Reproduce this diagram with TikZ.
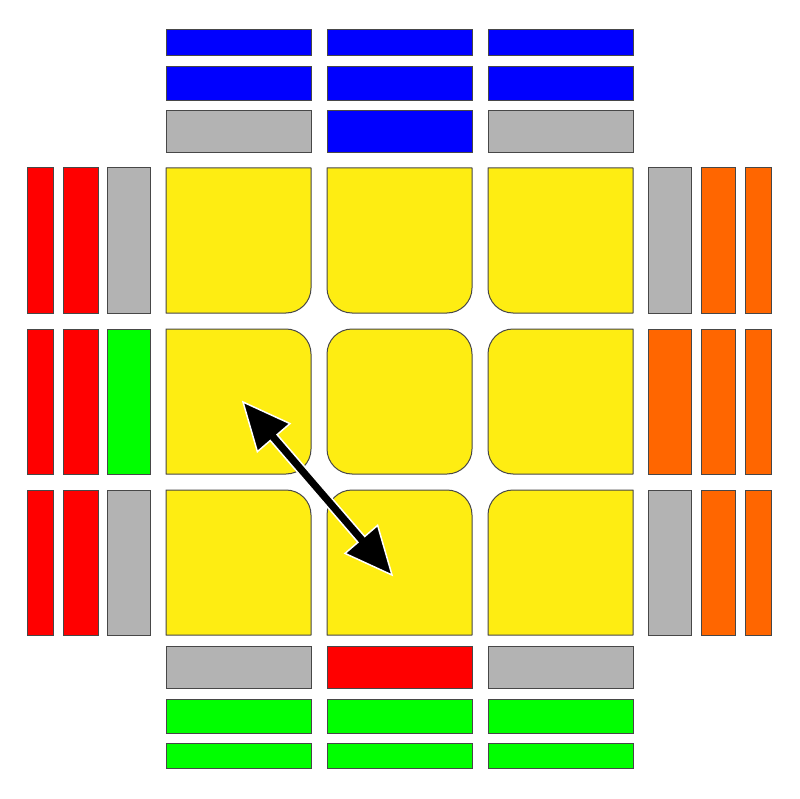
\documentclass[tikz,border=0pt]{standalone}
\usetikzlibrary{calc}
\definecolor{cubeyellow}{HTML}{FEED12}
\definecolor{cubegray}{HTML}{B3B3B3}
\definecolor{cubeorange}{HTML}{FF6600}
\definecolor{cubegreen}{HTML}{00FF00}
\definecolor{cubeblue}{HTML}{0000FF}
\definecolor{cubered}{HTML}{FF0000}
\tikzset{facelet/.style={draw=black!72,line width=1pt}}
\begin{document}
\begin{tikzpicture}[x=1pt,y=1pt]
\useasboundingbox (0,0) rectangle (799,-799);
% yellow face, inner corners rounded
\foreach \c/\x in {0/166,1/327,2/488}
\foreach \r/\y in {0/168,1/329,2/490}{
  \pgfmathsetmacro\ra{(\c>0)*(\r>0)*25+0.01}
  \pgfmathsetmacro\rb{(\c<2)*(\r>0)*25+0.01}
  \pgfmathsetmacro\rc{(\c<2)*(\r<2)*25+0.01}
  \pgfmathsetmacro\rd{(\c>0)*(\r<2)*25+0.01}
  \draw[facelet,fill=cubeyellow] (\x+\ra,-\y) -- (\x+145-\rb,-\y)
    arc[start angle=90,end angle=0,radius=\rb] -- (\x+145,-\y-145+\rc)
    arc[start angle=0,end angle=-90,radius=\rc] -- (\x+\rd,-\y-145)
    arc[start angle=-90,end angle=-180,radius=\rd] -- (\x,-\y-\ra)
    arc[start angle=180,end angle=90,radius=\ra] -- cycle;
}
% top strips
\foreach \y/\h/\ca/\cb/\cc in {30/26/cubeblue/cubeblue/cubeblue,
    67/34/cubeblue/cubeblue/cubeblue,111/42/cubegray/cubeblue/cubegray}{
  \draw[facelet,fill=\ca] (166,-\y) rectangle ++(145,-\h);
  \draw[facelet,fill=\cb] (327,-\y) rectangle ++(145,-\h);
  \draw[facelet,fill=\cc] (488,-\y) rectangle ++(145,-\h);
}
% bottom strips
\foreach \y/\h/\ca/\cb/\cc in {646/42/cubegray/cubered/cubegray,
    699/34/cubegreen/cubegreen/cubegreen,743/25/cubegreen/cubegreen/cubegreen}{
  \draw[facelet,fill=\ca] (166,-\y) rectangle ++(145,-\h);
  \draw[facelet,fill=\cb] (327,-\y) rectangle ++(145,-\h);
  \draw[facelet,fill=\cc] (488,-\y) rectangle ++(145,-\h);
}
% left strips
\foreach \x/\w/\ca/\cb/\cc in {27/26/cubered/cubered/cubered,
    63/35/cubered/cubered/cubered,107/43/cubegray/cubegreen/cubegray}{
  \draw[facelet,fill=\ca] (\x,-168) rectangle ++(\w,-145);
  \draw[facelet,fill=\cb] (\x,-329) rectangle ++(\w,-145);
  \draw[facelet,fill=\cc] (\x,-490) rectangle ++(\w,-145);
}
% right strips
\foreach \x/\w/\ca/\cb/\cc in {648/43/cubegray/cubeorange/cubegray,
    701/34/cubeorange/cubeorange/cubeorange,745/26/cubeorange/cubeorange/cubeorange}{
  \draw[facelet,fill=\ca] (\x,-168) rectangle ++(\w,-145);
  \draw[facelet,fill=\cb] (\x,-329) rectangle ++(\w,-145);
  \draw[facelet,fill=\cc] (\x,-490) rectangle ++(\w,-145);
}
% swap arrow
\coordinate (tipA) at (243,-402);
\coordinate (tipB) at (392,-575);
\coordinate (baseA) at ($(tipA)!47pt!(tipB)$);
\coordinate (baseB) at ($(tipB)!47pt!(tipA)$);
\fill[black,draw=white,line width=1.5pt,line join=miter] (tipA)
  -- ($(baseA)!21.5pt!90:(tipB)$) -- ($(baseA)!4.5pt!90:(tipB)$)
  -- ($(baseB)!4.5pt!-90:(tipA)$) -- ($(baseB)!21.5pt!-90:(tipA)$)
  -- (tipB)
  -- ($(baseB)!21.5pt!90:(tipA)$) -- ($(baseB)!4.5pt!90:(tipA)$)
  -- ($(baseA)!4.5pt!-90:(tipB)$) -- ($(baseA)!21.5pt!-90:(tipB)$)
  -- cycle;
\end{tikzpicture}
\end{document}
